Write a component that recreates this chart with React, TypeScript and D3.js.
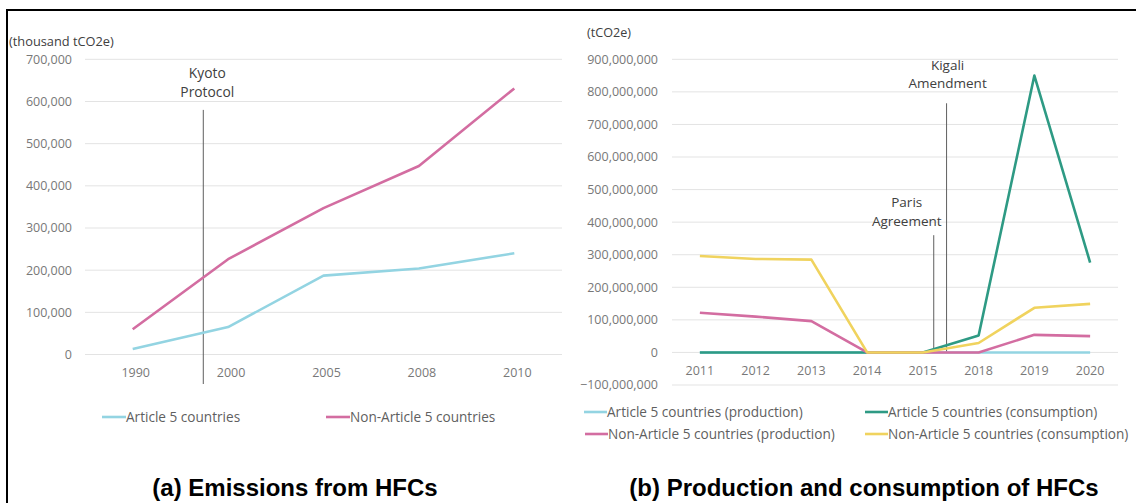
import React from "react";
import * as d3 from "d3";

// ---------- DATA ----------
const leftCategories = ["1990", "2000", "2005", "2008", "2010"];
const article5Emissions = [13000, 65000, 187000, 204000, 240000];
const nonArticle5Emissions = [60000, 226000, 347000, 447000, 631000];
const leftTicks = [0, 100000, 200000, 300000, 400000, 500000, 600000, 700000];

const rightCategories = ["2011", "2012", "2013", "2014", "2015", "2018", "2019", "2020"];
const article5Production = [0, 0, 0, 0, 0, 0, 0, 0];
const article5Consumption = [0, 0, 0, 0, 0, 52e6, 850e6, 276e6];
const nonArticle5Production = [122e6, 110e6, 96e6, 0, 0, 0, 54e6, 50e6];
const nonArticle5Consumption = [296e6, 287e6, 285e6, 0, 0, 29e6, 137e6, 149e6];
const rightTicks = [-100e6, 0, 100e6, 200e6, 300e6, 400e6, 500e6, 600e6, 700e6, 800e6, 900e6];

const leftSeriesNames = ["Article 5 countries", "Non-Article 5 countries"];
const rightSeriesNames = [
  "Article 5 countries (production)",
  "Article 5 countries (consumption)",
  "Non-Article 5 countries (production)",
  "Non-Article 5 countries (consumption)",
];

// annotations: category, fraction of a step to the right, top value of the marker line
const leftAnnotations = [{ lines: ["Kyoto", "Protocol"], at: "1990", frac: 0.74, top: 580000 }];
const rightAnnotations = [
  { lines: ["Paris", "Agreement"], at: "2015", frac: 0.195, top: 360e6 },
  { lines: ["Kigali", "Amendment"], at: "2015", frac: 0.425, top: 765e6 },
];

// ---------- STYLE ----------
const C_BLUE = "#93d4e2";
const C_PINK = "#d36da1";
const C_TEAL = "#2e9a84";
const C_YELLOW = "#f0d35e";
const TICK = "#787878";
const TEXT = "#5f5f5f";
const DARK = "#404040";
const GRID = "#e3e3e3";
const FONT = "'Open Sans', 'DejaVu Sans', sans-serif";
const TITLE_FONT = "'Liberation Sans', Arial, sans-serif";

const leftAnnoText = [{ dx: 4, dy1: -37, dy2: -18 }];
const rightAnnoText = [
  { dx: -27, dy1: -33, dy2: -14 },
  { dx: 1, dy1: -38, dy2: -20 },
];

export default function App() {
  const W = 1136;
  const H = 503;

  const xL = d3.scalePoint<string>().domain(leftCategories).range([85, 562]).padding(0.5);
  const yL = d3.scaleLinear().domain([0, 700000]).range([354.5, 59.3]);
  const stepL = xL.step();

  const xR = d3.scalePoint<string>().domain(rightCategories).range([672, 1118]).padding(0.5);
  const yR = d3.scaleLinear().domain([-100e6, 900e6]).range([385, 59.3]);
  const stepR = xR.step();

  const fmt = d3.format(",");

  const lineL = d3
    .line<number>()
    .x((_, i) => xL(leftCategories[i]) as number)
    .y((d) => yL(d));
  const lineR = d3
    .line<number>()
    .x((_, i) => xR(rightCategories[i]) as number)
    .y((d) => yR(d));

  const leftSeries = [
    { name: leftSeriesNames[0], values: article5Emissions, color: C_BLUE },
    { name: leftSeriesNames[1], values: nonArticle5Emissions, color: C_PINK },
  ];
  const rightSeries = [
    { name: rightSeriesNames[0], values: article5Production, color: C_BLUE },
    { name: rightSeriesNames[1], values: article5Consumption, color: C_TEAL },
    { name: rightSeriesNames[2], values: nonArticle5Production, color: C_PINK },
    { name: rightSeriesNames[3], values: nonArticle5Consumption, color: C_YELLOW },
  ];

  const leftLegendPos = [
    { x: 102, y: 417 },
    { x: 326, y: 417 },
  ];
  const rightLegendPos = [
    { x: 584, y: 412 },
    { x: 865, y: 412 },
    { x: 585, y: 434 },
    { x: 865, y: 434 },
  ];

  return (
    <svg
      width={W}
      height={H}
      viewBox={`0 0 ${W} ${H}`}
      style={{ position: "absolute", left: 0, top: 0, background: "#fff" }}
    >
      <rect x={0} y={0} width={W} height={H} fill="#fff" />
      <line x1={6} y1={10} x2={W} y2={10} stroke="#000" strokeWidth={2} />
      <line x1={7} y1={9} x2={7} y2={H} stroke="#000" strokeWidth={2} />

      {/* ---------- LEFT CHART ---------- */}
      <text x={9} y={46} fontFamily={FONT} fontSize={12.8} fill={DARK}>
        (thousand tCO2e)
      </text>
      {leftTicks.map((t) => (
        <g key={"lt" + t}>
          <line x1={85} x2={562} y1={yL(t)} y2={yL(t)} stroke={GRID} strokeWidth={1} />
          <text x={72} y={yL(t)} dy="0.35em" textAnchor="end" fontFamily={FONT} fontSize={12.5} fill={TICK}>
            {fmt(t)}
          </text>
        </g>
      ))}
      {leftCategories.map((c) => (
        <text
          key={"lc" + c}
          x={(xL(c) as number) + 3}
          y={373}
          dy="0.35em"
          textAnchor="middle"
          fontFamily={FONT}
          fontSize={12.5}
          fill={TICK}
        >
          {c}
        </text>
      ))}
      {leftAnnotations.map((a, i) => {
        const x = (xL(a.at) as number) + a.frac * stepL;
        const yt = yL(a.top);
        const s = leftAnnoText[i];
        return (
          <g key={"la" + i}>
            <line x1={x} x2={x} y1={yt} y2={384} stroke={TEXT} strokeWidth={1} />
            <text x={x + s.dx} y={yt + s.dy1} dy="0.35em" textAnchor="middle" fontFamily={FONT} fontSize={13.8} fill={DARK}>
              {a.lines[0]}
            </text>
            <text x={x + s.dx} y={yt + s.dy2} dy="0.35em" textAnchor="middle" fontFamily={FONT} fontSize={13.8} fill={DARK}>
              {a.lines[1]}
            </text>
          </g>
        );
      })}
      {leftSeries.map((s) => (
        <path key={"ls" + s.name} d={lineL(s.values) as string} fill="none" stroke={s.color} strokeWidth={2.6} strokeLinejoin="round" />
      ))}
      {leftSeries.map((s, i) => {
        const p = leftLegendPos[i];
        return (
          <g key={"lg" + s.name}>
            <line x1={p.x} x2={p.x + 24} y1={p.y} y2={p.y} stroke={s.color} strokeWidth={2.6} />
            <text x={p.x + 24} y={p.y} dy="0.35em" fontFamily={FONT} fontSize={13.6} fill={TEXT}>
              {s.name}
            </text>
          </g>
        );
      })}
      <text x={295} y={496} textAnchor="middle" fontFamily={TITLE_FONT} fontWeight="bold" fontSize={24} fill="#000">
        (a) Emissions from HFCs
      </text>

      {/* ---------- RIGHT CHART ---------- */}
      <text x={587} y={37} fontFamily={FONT} fontSize={12.6} fill={DARK}>
        (tCO2e)
      </text>
      {rightTicks.map((t) => (
        <g key={"rt" + t}>
          <line x1={672} x2={1118} y1={yR(t)} y2={yR(t)} stroke={GRID} strokeWidth={1} />
          <text x={658} y={yR(t)} dy="0.35em" textAnchor="end" fontFamily={FONT} fontSize={12.5} fill={TICK}>
            {fmt(t)}
          </text>
        </g>
      ))}
      {rightCategories.map((c) => (
        <text
          key={"rc" + c}
          x={xR(c) as number}
          y={371}
          dy="0.35em"
          textAnchor="middle"
          fontFamily={FONT}
          fontSize={12.5}
          fill={TICK}
        >
          {c}
        </text>
      ))}
      {rightAnnotations.map((a, i) => {
        const x = (xR(a.at) as number) + a.frac * stepR;
        const yt = yR(a.top);
        const s = rightAnnoText[i];
        return (
          <g key={"ra" + i}>
            <line x1={x} x2={x} y1={yt} y2={yR(0)} stroke={TEXT} strokeWidth={1} />
            <text x={x + s.dx} y={yt + s.dy1} dy="0.35em" textAnchor="middle" fontFamily={FONT} fontSize={13.5} fill={DARK}>
              {a.lines[0]}
            </text>
            <text x={x + s.dx} y={yt + s.dy2} dy="0.35em" textAnchor="middle" fontFamily={FONT} fontSize={13.5} fill={DARK}>
              {a.lines[1]}
            </text>
          </g>
        );
      })}
      {rightSeries.map((s) => (
        <path key={"rs" + s.name} d={lineR(s.values) as string} fill="none" stroke={s.color} strokeWidth={2.6} strokeLinejoin="round" />
      ))}
      {rightSeries.map((s, i) => {
        const p = rightLegendPos[i];
        return (
          <g key={"rg" + s.name}>
            <line x1={p.x} x2={p.x + 23} y1={p.y} y2={p.y} stroke={s.color} strokeWidth={2.6} />
            <text x={p.x + 23} y={p.y} dy="0.35em" fontFamily={FONT} fontSize={13.6} fill={TEXT}>
              {s.name}
            </text>
          </g>
        );
      })}
      <text x={864} y={496} textAnchor="middle" fontFamily={TITLE_FONT} fontWeight="bold" fontSize={24} fill="#000">
        (b) Production and consumption of HFCs
      </text>
    </svg>
  );
}
